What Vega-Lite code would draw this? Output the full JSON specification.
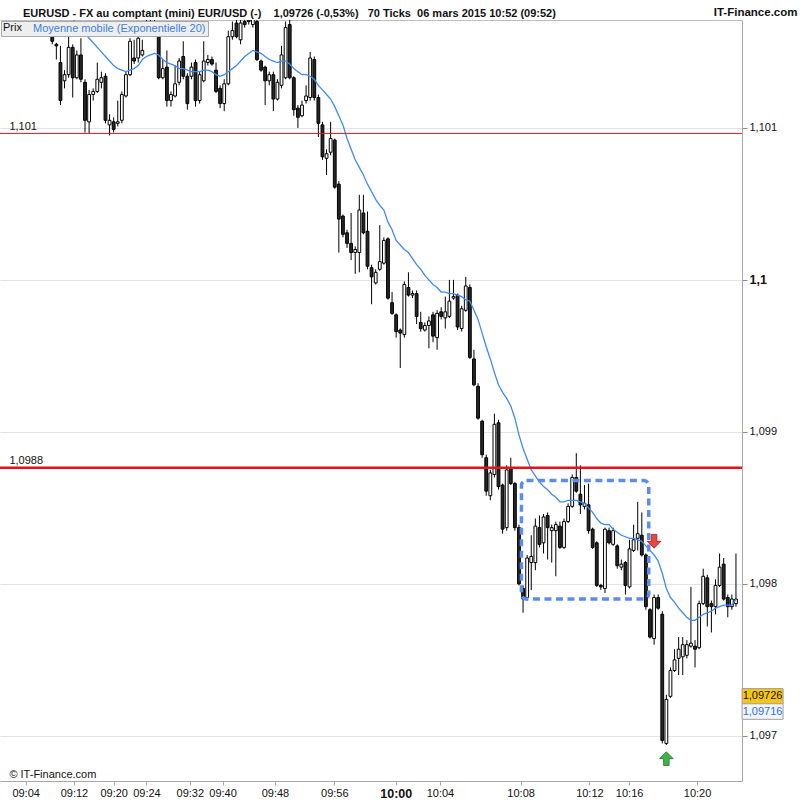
{
  "$schema": "https://vega.github.io/schema/vega-lite/v6.json",
  "description": "EURUSD 70-tick candlesticks with EMA 20, 06 mars 2015",
  "width": 742,
  "height": 761,
  "autosize": {"type": "none"},
  "padding": {"left": 0, "top": 20, "right": 58, "bottom": 19},
  "background": "white",
  "title": {
    "text": "EURUSD - FX au comptant (mini) EUR/USD (-)\u00a0\u00a0\u00a0 1,09726 (-0,53%)\u00a0\u00a0 70 Ticks\u00a0 06 mars 2015 10:52 (09:52)",
    "anchor": "start",
    "frame": "group",
    "dx": 23,
    "offset": -13,
    "font": "Liberation Sans",
    "fontSize": 11,
    "fontWeight": "bold",
    "color": "#111111"
  },
  "datasets": {
    "candles": [
      {"k":10,"o":1.10164,"h":1.10166,"l":1.10155,"c":1.10157},
      {"k":11,"o":1.10155,"h":1.10156,"l":1.10145,"c":1.10154},
      {"k":12,"o":1.10143,"h":1.10154,"l":1.10115,"c":1.10118},
      {"k":13,"o":1.10131,"h":1.10138,"l":1.10126,"c":1.10135},
      {"k":14,"o":1.10135,"h":1.10161,"l":1.10133,"c":1.10153},
      {"k":15,"o":1.10153,"h":1.10155,"l":1.10120,"c":1.10133,"e":1.10172},
      {"k":16,"o":1.10133,"h":1.10151,"l":1.10132,"c":1.10148,"e":1.10168},
      {"k":17,"o":1.10148,"h":1.10159,"l":1.10130,"c":1.10132,"e":1.10165},
      {"k":18,"o":1.10130,"h":1.10132,"l":1.10097,"c":1.10105,"e":1.10162},
      {"k":19,"o":1.10104,"h":1.10125,"l":1.10096,"c":1.10122,"e":1.10159},
      {"k":20,"o":1.10122,"h":1.10126,"l":1.10118,"c":1.10124,"e":1.10156},
      {"k":21,"o":1.10124,"h":1.10143,"l":1.10123,"c":1.10132,"e":1.10153},
      {"k":22,"o":1.10130,"h":1.10137,"l":1.10126,"c":1.10133,"e":1.10150},
      {"k":23,"o":1.10134,"h":1.10136,"l":1.10103,"c":1.10105,"e":1.10147},
      {"k":24,"o":1.10102,"h":1.10109,"l":1.10095,"c":1.10105,"e":1.10144},
      {"k":25,"o":1.10104,"h":1.10107,"l":1.10097,"c":1.10099,"e":1.10141},
      {"k":26,"o":1.10103,"h":1.10118,"l":1.10101,"c":1.10104,"e":1.10139},
      {"k":27,"o":1.10105,"h":1.10124,"l":1.10103,"c":1.10122,"e":1.10138},
      {"k":28,"o":1.10121,"h":1.10137,"l":1.10120,"c":1.10135,"e":1.10137},
      {"k":29,"o":1.10135,"h":1.10159,"l":1.10134,"c":1.10157,"e":1.10138},
      {"k":30,"o":1.10146,"h":1.10158,"l":1.10142,"c":1.10144,"e":1.10139},
      {"k":31,"o":1.10146,"h":1.10161,"l":1.10143,"c":1.10159,"e":1.10141},
      {"k":32,"o":1.10148,"h":1.10158,"l":1.10147,"c":1.10151,"e":1.10145},
      {"k":33,"o":1.10162,"h":1.10174,"l":1.10161,"c":1.10170,"e":1.10147},
      {"k":34,"o":1.10168,"h":1.10178,"l":1.10162,"c":1.10164,"e":1.10148},
      {"k":35,"o":1.10163,"h":1.10176,"l":1.10162,"c":1.10168,"e":1.10149},
      {"k":36,"o":1.10161,"h":1.10164,"l":1.10132,"c":1.10133,"e":1.10148},
      {"k":37,"o":1.10133,"h":1.10145,"l":1.10132,"c":1.10139,"e":1.10145},
      {"k":38,"o":1.10140,"h":1.10151,"l":1.10114,"c":1.10118,"e":1.10143},
      {"k":39,"o":1.10118,"h":1.10124,"l":1.10114,"c":1.10122,"e":1.10142},
      {"k":40,"o":1.10121,"h":1.10141,"l":1.10120,"c":1.10129,"e":1.10141},
      {"k":41,"o":1.10130,"h":1.10146,"l":1.10128,"c":1.10144,"e":1.10139},
      {"k":42,"o":1.10147,"h":1.10157,"l":1.10132,"c":1.10134,"e":1.10139},
      {"k":43,"o":1.10134,"h":1.10136,"l":1.10112,"c":1.10116,"e":1.10138},
      {"k":44,"o":1.10134,"h":1.10143,"l":1.10132,"c":1.10140,"e":1.10137},
      {"k":45,"o":1.10143,"h":1.10145,"l":1.10114,"c":1.10118,"e":1.10137},
      {"k":46,"o":1.10118,"h":1.10137,"l":1.10116,"c":1.10135,"e":1.10137},
      {"k":47,"o":1.10131,"h":1.10157,"l":1.10130,"c":1.10144,"e":1.10138},
      {"k":48,"o":1.10143,"h":1.10148,"l":1.10141,"c":1.10145,"e":1.10138},
      {"k":49,"o":1.10145,"h":1.10147,"l":1.10141,"c":1.10142,"e":1.10137},
      {"k":50,"o":1.10138,"h":1.10143,"l":1.10123,"c":1.10124,"e":1.10135},
      {"k":51,"o":1.10126,"h":1.10128,"l":1.10113,"c":1.10116,"e":1.10134},
      {"k":52,"o":1.10116,"h":1.10132,"l":1.10111,"c":1.10129,"e":1.10135},
      {"k":53,"o":1.10129,"h":1.10164,"l":1.10128,"c":1.10160,"e":1.10137},
      {"k":54,"o":1.10160,"h":1.10170,"l":1.10158,"c":1.10164,"e":1.10139},
      {"k":55,"o":1.10169,"h":1.10172,"l":1.10159,"c":1.10160,"e":1.10141},
      {"k":56,"o":1.10158,"h":1.10174,"l":1.10155,"c":1.10169,"e":1.10144},
      {"k":57,"o":1.10170,"h":1.10174,"l":1.10166,"c":1.10168,"e":1.10147},
      {"k":58,"o":1.10178,"h":1.10181,"l":1.10168,"c":1.10170,"e":1.10149},
      {"k":59,"o":1.10168,"h":1.10184,"l":1.10166,"c":1.10176,"e":1.10151},
      {"k":60,"o":1.10170,"h":1.10178,"l":1.10144,"c":1.10145,"e":1.10150},
      {"k":61,"o":1.10144,"h":1.10145,"l":1.10137,"c":1.10138,"e":1.10149},
      {"k":62,"o":1.10140,"h":1.10141,"l":1.10115,"c":1.10131,"e":1.10147},
      {"k":63,"o":1.10131,"h":1.10137,"l":1.10128,"c":1.10135,"e":1.10145},
      {"k":64,"o":1.10135,"h":1.10137,"l":1.10111,"c":1.10119,"e":1.10144},
      {"k":65,"o":1.10119,"h":1.10132,"l":1.10118,"c":1.10130,"e":1.10143},
      {"k":66,"o":1.10128,"h":1.10154,"l":1.10126,"c":1.10148,"e":1.10144},
      {"k":67,"o":1.10133,"h":1.10170,"l":1.10132,"c":1.10166,"e":1.10144},
      {"k":68,"o":1.10168,"h":1.10171,"l":1.10132,"c":1.10133,"e":1.10142},
      {"k":69,"o":1.10133,"h":1.10134,"l":1.10108,"c":1.10112,"e":1.10139},
      {"k":70,"o":1.10113,"h":1.10115,"l":1.10100,"c":1.10107,"e":1.10137},
      {"k":71,"o":1.10108,"h":1.10118,"l":1.10107,"c":1.10115,"e":1.10135},
      {"k":72,"o":1.10118,"h":1.10128,"l":1.10116,"c":1.10121,"e":1.10135},
      {"k":73,"o":1.10120,"h":1.10150,"l":1.10118,"c":1.10146,"e":1.10134},
      {"k":74,"o":1.10145,"h":1.10147,"l":1.10118,"c":1.10120,"e":1.10132},
      {"k":75,"o":1.10120,"h":1.10122,"l":1.10094,"c":1.10103,"e":1.10128},
      {"k":76,"o":1.10102,"h":1.10104,"l":1.10079,"c":1.10081,"e":1.10125},
      {"k":77,"o":1.10080,"h":1.10086,"l":1.10069,"c":1.10083,"e":1.10122},
      {"k":78,"o":1.10084,"h":1.10104,"l":1.10082,"c":1.10093,"e":1.10119},
      {"k":79,"o":1.10092,"h":1.10093,"l":1.10060,"c":1.10061,"e":1.10114},
      {"k":80,"o":1.10063,"h":1.10065,"l":1.10018,"c":1.10040,"e":1.10108},
      {"k":81,"o":1.10042,"h":1.10043,"l":1.10028,"c":1.10030,"e":1.10102},
      {"k":82,"o":1.10031,"h":1.10033,"l":1.10021,"c":1.10024,"e":1.10093},
      {"k":83,"o":1.10024,"h":1.10044,"l":1.10013,"c":1.10018,"e":1.10086},
      {"k":84,"o":1.10018,"h":1.10022,"l":1.10004,"c":1.10020,"e":1.10079},
      {"k":85,"o":1.10018,"h":1.10056,"l":1.10005,"c":1.10046,"e":1.10074},
      {"k":86,"o":1.10044,"h":1.10056,"l":1.10030,"c":1.10031,"e":1.10069},
      {"k":87,"o":1.10032,"h":1.10045,"l":1.10007,"c":1.10009,"e":1.10063},
      {"k":88,"o":1.10008,"h":1.10010,"l":1.09984,"c":1.10002,"e":1.10058},
      {"k":89,"o":1.09998,"h":1.10007,"l":1.09997,"c":1.10005,"e":1.10053},
      {"k":90,"o":1.10007,"h":1.10036,"l":1.10006,"c":1.10012,"e":1.10049},
      {"k":91,"o":1.10011,"h":1.10028,"l":1.10010,"c":1.10026,"e":1.10046},
      {"k":92,"o":1.10027,"h":1.10028,"l":1.09987,"c":1.09988,"e":1.10038},
      {"k":93,"o":1.09985,"h":1.09992,"l":1.09977,"c":1.09978,"e":1.10033},
      {"k":94,"o":1.09977,"h":1.09978,"l":1.09962,"c":1.09966,"e":1.10026},
      {"k":95,"o":1.09967,"h":1.09968,"l":1.09942,"c":1.09965,"e":1.10023},
      {"k":96,"o":1.09964,"h":1.09999,"l":1.09962,"c":1.09997,"e":1.10020},
      {"k":97,"o":1.09995,"h":1.10005,"l":1.09989,"c":1.09990,"e":1.10018},
      {"k":98,"o":1.09990,"h":1.09993,"l":1.09988,"c":1.09991,"e":1.10014},
      {"k":99,"o":1.09991,"h":1.09993,"l":1.09971,"c":1.09976,"e":1.10010},
      {"k":100,"o":1.09972,"h":1.09979,"l":1.09966,"c":1.09968,"e":1.10007},
      {"k":101,"o":1.09967,"h":1.09972,"l":1.09966,"c":1.09970,"e":1.10003},
      {"k":102,"o":1.09970,"h":1.09976,"l":1.09955,"c":1.09973,"e":1.10000},
      {"k":103,"o":1.09977,"h":1.09979,"l":1.09959,"c":1.09963,"e":1.09997},
      {"k":104,"o":1.09962,"h":1.09980,"l":1.09954,"c":1.09978,"e":1.09995},
      {"k":105,"o":1.09979,"h":1.09982,"l":1.09974,"c":1.09976,"e":1.09992},
      {"k":106,"o":1.09975,"h":1.09989,"l":1.09968,"c":1.09979,"e":1.09992},
      {"k":107,"o":1.09976,"h":1.10000,"l":1.09975,"c":1.09986,"e":1.09991},
      {"k":108,"o":1.09988,"h":1.10000,"l":1.09987,"c":1.09989,"e":1.09991},
      {"k":109,"o":1.09990,"h":1.09991,"l":1.09967,"c":1.09969,"e":1.09990},
      {"k":110,"o":1.09968,"h":1.09983,"l":1.09966,"c":1.09981,"e":1.09989},
      {"k":111,"o":1.09980,"h":1.10002,"l":1.09979,"c":1.09996,"e":1.09987},
      {"k":112,"o":1.09995,"h":1.09997,"l":1.09948,"c":1.09949,"e":1.09986},
      {"k":113,"o":1.09948,"h":1.09954,"l":1.09930,"c":1.09931,"e":1.09980},
      {"k":114,"o":1.09930,"h":1.09932,"l":1.09908,"c":1.09909,"e":1.09974},
      {"k":115,"o":1.09907,"h":1.09908,"l":1.09883,"c":1.09885,"e":1.09965},
      {"k":116,"o":1.09883,"h":1.09885,"l":1.09858,"c":1.09861,"e":1.09956},
      {"k":117,"o":1.09858,"h":1.09875,"l":1.09855,"c":1.09873,"e":1.09948},
      {"k":118,"o":1.09872,"h":1.09912,"l":1.09870,"c":1.09905,"e":1.09939},
      {"k":119,"o":1.09906,"h":1.09908,"l":1.09862,"c":1.09864,"e":1.09931},
      {"k":120,"o":1.09865,"h":1.09866,"l":1.09833,"c":1.09836,"e":1.09926},
      {"k":121,"o":1.09837,"h":1.09878,"l":1.09835,"c":1.09875,"e":1.09922},
      {"k":122,"o":1.09876,"h":1.09883,"l":1.09865,"c":1.09866,"e":1.09917},
      {"k":123,"o":1.09866,"h":1.09867,"l":1.09835,"c":1.09837,"e":1.09909},
      {"k":124,"o":1.09837,"h":1.09839,"l":1.09799,"c":1.09800,"e":1.09898},
      {"k":125,"o":1.09797,"h":1.09799,"l":1.09781,"c":1.09790,"e":1.09889},
      {"k":126,"o":1.09791,"h":1.09819,"l":1.09789,"c":1.09817,"e":1.09882},
      {"k":127,"o":1.09814,"h":1.09832,"l":1.09796,"c":1.09818,"e":1.09875},
      {"k":128,"o":1.09814,"h":1.09843,"l":1.09809,"c":1.09838,"e":1.09871},
      {"k":129,"o":1.09837,"h":1.09845,"l":1.09824,"c":1.09826,"e":1.09867},
      {"k":130,"o":1.09827,"h":1.09846,"l":1.09820,"c":1.09844,"e":1.09864},
      {"k":131,"o":1.09845,"h":1.09847,"l":1.09816,"c":1.09837,"e":1.09862},
      {"k":132,"o":1.09835,"h":1.09839,"l":1.09814,"c":1.09837,"e":1.09859},
      {"k":133,"o":1.09835,"h":1.09841,"l":1.09805,"c":1.09839,"e":1.09857},
      {"k":134,"o":1.09838,"h":1.09841,"l":1.09823,"c":1.09824,"e":1.09854},
      {"k":135,"o":1.09824,"h":1.09843,"l":1.09823,"c":1.09841,"e":1.09854},
      {"k":136,"o":1.09841,"h":1.09853,"l":1.09840,"c":1.09851,"e":1.09855},
      {"k":137,"o":1.09851,"h":1.09872,"l":1.09850,"c":1.09870,"e":1.09855},
      {"k":138,"o":1.09870,"h":1.09886,"l":1.09860,"c":1.09861,"e":1.09855},
      {"k":139,"o":1.09859,"h":1.09878,"l":1.09846,"c":1.09852,"e":1.09854},
      {"k":140,"o":1.09851,"h":1.09865,"l":1.09849,"c":1.09853,"e":1.09853},
      {"k":141,"o":1.09852,"h":1.09866,"l":1.09833,"c":1.09835,"e":1.09850},
      {"k":142,"o":1.09836,"h":1.09837,"l":1.09823,"c":1.09824,"e":1.09847},
      {"k":143,"o":1.09827,"h":1.09828,"l":1.09798,"c":1.09799,"e":1.09843},
      {"k":144,"o":1.09799,"h":1.09800,"l":1.09796,"c":1.09798,"e":1.09840},
      {"k":145,"o":1.09797,"h":1.09837,"l":1.09794,"c":1.09836,"e":1.09839},
      {"k":146,"o":1.09835,"h":1.09837,"l":1.09826,"c":1.09827,"e":1.09839},
      {"k":147,"o":1.09826,"h":1.09837,"l":1.09825,"c":1.09835,"e":1.09836},
      {"k":148,"o":1.09825,"h":1.09826,"l":1.09810,"c":1.09812,"e":1.09834},
      {"k":149,"o":1.09811,"h":1.09816,"l":1.09809,"c":1.09813,"e":1.09832},
      {"k":150,"o":1.09814,"h":1.09815,"l":1.09793,"c":1.09799,"e":1.09831},
      {"k":151,"o":1.09798,"h":1.09829,"l":1.09797,"c":1.09823,"e":1.09830},
      {"k":152,"o":1.09822,"h":1.09839,"l":1.09821,"c":1.09829,"e":1.09830},
      {"k":153,"o":1.09830,"h":1.09854,"l":1.09822,"c":1.09833,"e":1.09829},
      {"k":154,"o":1.09832,"h":1.09847,"l":1.09818,"c":1.09819,"e":1.09828},
      {"k":155,"o":1.09819,"h":1.09820,"l":1.09783,"c":1.09785,"e":1.09825},
      {"k":156,"o":1.09783,"h":1.09784,"l":1.09764,"c":1.09765,"e":1.09822},
      {"k":157,"o":1.09764,"h":1.09793,"l":1.09760,"c":1.09791,"e":1.09819},
      {"k":158,"o":1.09791,"h":1.09793,"l":1.09783,"c":1.09784,"e":1.09815},
      {"k":159,"o":1.09780,"h":1.09782,"l":1.09695,"c":1.09697,"e":1.09807},
      {"k":160,"o":1.09695,"h":1.09727,"l":1.09694,"c":1.09724,"e":1.09797},
      {"k":161,"o":1.09726,"h":1.09745,"l":1.09725,"c":1.09743,"e":1.09791},
      {"k":162,"o":1.09743,"h":1.09757,"l":1.09742,"c":1.09750,"e":1.09788},
      {"k":163,"o":1.09751,"h":1.09765,"l":1.09740,"c":1.09757,"e":1.09784},
      {"k":164,"o":1.09752,"h":1.09765,"l":1.09740,"c":1.09760,"e":1.09781},
      {"k":165,"o":1.09753,"h":1.09763,"l":1.09751,"c":1.09760,"e":1.09778},
      {"k":166,"o":1.09759,"h":1.09798,"l":1.09758,"c":1.09761,"e":1.09776},
      {"k":167,"o":1.09759,"h":1.09763,"l":1.09745,"c":1.09757,"e":1.09776},
      {"k":168,"o":1.09758,"h":1.09789,"l":1.09757,"c":1.09787,"e":1.09778},
      {"k":169,"o":1.09787,"h":1.09810,"l":1.09786,"c":1.09805,"e":1.09780},
      {"k":170,"o":1.09804,"h":1.09806,"l":1.09772,"c":1.09785,"e":1.09781},
      {"k":171,"o":1.09787,"h":1.09789,"l":1.09768,"c":1.09785,"e":1.09782},
      {"k":172,"o":1.09785,"h":1.09803,"l":1.09780,"c":1.09799,"e":1.09784},
      {"k":173,"o":1.09799,"h":1.09820,"l":1.09798,"c":1.09811,"e":1.09785},
      {"k":174,"o":1.09813,"h":1.09817,"l":1.09789,"c":1.09790,"e":1.09786},
      {"k":175,"o":1.09791,"h":1.09793,"l":1.09778,"c":1.09785,"e":1.09786},
      {"k":176,"o":1.09785,"h":1.09793,"l":1.09783,"c":1.09790,"e":1.09786},
      {"k":177,"o":1.09787,"h":1.09820,"l":1.09785,"c":1.09790,"e":1.09790}
    ],
    "levels": [
      {"v": 1.101, "lab": "1,101"},
      {"v": 1.0988, "lab": "1,0988"}
    ],
    "zone": [
      {"k1": 124.6, "k2": 155.7, "top": 1.09868, "bottom": 1.0979}
    ],
    "signals": [
      {"k": 157, "p": 1.09828, "dir": "down"},
      {"k": 160, "p": 1.09685, "dir": "up"}
    ],
    "tags": [
      {"p": 1.09726, "lab": "1,09726", "kind": "last"},
      {"p": 1.09716, "lab": "1,09716", "kind": "ema"}
    ]
  },
  "resolve": {"axis": {"x": "independent", "y": "independent"}},
  "layer": [
    {
      "data": {"name": "candles"},
      "mark": {"type": "rule", "color": "#000000", "strokeWidth": 1, "clip": true},
      "encoding": {
        "x": {
          "field": "k", "type": "quantitative",
          "scale": {"domain": [-1.542, 177.253], "nice": false, "zero": false},
          "axis": {
            "orient": "bottom", "title": null, "grid": false,
            "values": [3.5, 15.3, 25, 33, 43.6, 51.6, 64.4, 78.9, 93.9, 104.7, 124.4, 141.2, 150.9, 167.5],
            "labelExpr": "datum.value < 10 ? '09:04' : datum.value < 20 ? '09:12' : datum.value < 29 ? '09:20' : datum.value < 38 ? '09:24' : datum.value < 48 ? '09:32' : datum.value < 58 ? '09:40' : datum.value < 70 ? '09:48' : datum.value < 85 ? '09:56' : datum.value < 99 ? '10:00' : datum.value < 115 ? '10:04' : datum.value < 133 ? '10:08' : datum.value < 146 ? '10:12' : datum.value < 160 ? '10:16' : '10:20'",
            "labelFont": "Liberation Sans",
            "labelFontSize": {"condition": {"test": "datum.value > 93 && datum.value < 95", "value": 12.5}, "value": 11},
            "labelFontWeight": {"condition": {"test": "datum.value > 93 && datum.value < 95", "value": "bold"}, "value": "normal"},
            "labelColor": "#111111",
            "labelPadding": 2,
            "labelFlush": false,
            "labelOverlap": false,
            "domainColor": "#a8a8a8",
            "tickColor": "#a8a8a8",
            "tickSize": 4
          }
        },
        "y": {
          "field": "l", "type": "quantitative",
          "scale": {"domain": [1.096703, 1.10171], "nice": false, "zero": false},
          "axis": {
            "orient": "right", "title": null,
            "values": [1.097, 1.098, 1.099, 1.1, 1.101],
            "labelExpr": "replace(format(datum.value, '.3~f'), '.', ',')",
            "labelFont": "Liberation Sans",
            "labelFontSize": {"condition": {"test": "abs(datum.value - 1.1) < 0.0001", "value": 12.5}, "value": 11},
            "labelFontWeight": {"condition": {"test": "abs(datum.value - 1.1) < 0.0001", "value": "bold"}, "value": "normal"},
            "labelColor": "#111111",
            "labelPadding": 2,
            "grid": true,
            "gridColor": "#e3e3e3",
            "domainColor": "#a8a8a8",
            "tickColor": "#8c8c8c",
            "tickSize": 5
          }
        },
        "y2": {"field": "h"}
      }
    },
    {
      "data": {"name": "candles"},
      "mark": {"type": "bar", "orient": "vertical", "size": 2.8, "stroke": "#000000", "strokeWidth": 1, "clip": true},
      "encoding": {
        "x": {"field": "k", "type": "quantitative", "scale": {"domain": [-1.542, 177.253], "nice": false, "zero": false}, "axis": null},
        "y": {"field": "o", "type": "quantitative", "scale": {"domain": [1.096703, 1.10171], "nice": false, "zero": false}, "axis": null},
        "y2": {"field": "c"},
        "fill": {"condition": {"test": "datum.c > datum.o", "value": "#ffffff"}, "value": "#262626"}
      }
    },
    {
      "data": {"name": "candles"},
      "mark": {"type": "line", "strokeWidth": 1.3, "clip": true},
      "encoding": {
        "x": {
          "field": "k", "type": "quantitative",
          "scale": {"domain": [-1.542, 177.253], "nice": false, "zero": false},
          "axis": {
            "orient": "top", "labels": false, "ticks": false, "grid": false,
            "domain": true, "domainColor": "#bdbdbd",
            "title": "IT-Finance.com",
            "titleX": 797, "titleY": -5,
            "titleAlign": "right", "titleAnchor": "end", "titleBaseline": "alphabetic",
            "titleFont": "Liberation Sans", "titleFontSize": 11.5, "titleFontWeight": "bold", "titleColor": "#111111"
          }
        },
        "y": {"field": "e", "type": "quantitative", "scale": {"domain": [1.096703, 1.10171], "nice": false, "zero": false}, "axis": null},
        "color": {
          "datum": "Moyenne mobile (Exponentielle 20)", "type": "nominal",
          "scale": {"range": ["#3d8af7"]},
          "legend": {
            "orient": "top-left", "offset": 1, "zindex": 1,
            "title": "Prix", "titleOrient": "left", "titlePadding": 0,
            "titleFont": "Liberation Sans", "titleFontSize": 11, "titleFontWeight": "normal", "titleColor": "#111111",
            "labelFont": "Liberation Sans", "labelFontSize": 11, "labelColor": "#3a7ee8", "labelOffset": 0, "labelLimit": 400,
            "symbolSize": 0, "symbolStrokeWidth": 0, "symbolOpacity": 0,
            "fillColor": "#eeeeee", "strokeColor": "#a9a9a9", "padding": 2
          }
        }
      }
    },
    {
      "data": {"name": "levels"},
      "mark": {"type": "rule", "color": "#e0141b", "yOffset": 5.5},
      "encoding": {
        "y": {"field": "v", "type": "quantitative", "scale": {"domain": [1.096703, 1.10171], "nice": false, "zero": false}, "axis": null},
        "strokeWidth": {"condition": {"test": "datum.v < 1.1", "value": 2.5}, "value": 1}
      }
    },
    {
      "data": {"name": "levels"},
      "mark": {"type": "text", "align": "left", "baseline": "middle", "dx": 3, "dy": -1, "font": "Liberation Sans", "fontSize": 11, "color": "#111111"},
      "encoding": {
        "x": {"datum": -1.2, "type": "quantitative", "scale": {"domain": [-1.542, 177.253], "nice": false, "zero": false}, "axis": null},
        "y": {"field": "v", "type": "quantitative", "scale": {"domain": [1.096703, 1.10171], "nice": false, "zero": false}, "axis": null},
        "text": {"field": "lab"}
      }
    },
    {
      "data": {"name": "zone"},
      "mark": {"type": "rect", "fill": "transparent", "stroke": "#5b8df0", "strokeWidth": 3.5, "strokeDash": [7, 4.5], "cornerRadius": 5},
      "encoding": {
        "x": {"field": "k1", "type": "quantitative", "scale": {"domain": [-1.542, 177.253], "nice": false, "zero": false}, "axis": null},
        "x2": {"field": "k2"},
        "y": {"field": "top", "type": "quantitative", "scale": {"domain": [1.096703, 1.10171], "nice": false, "zero": false}, "axis": null},
        "y2": {"field": "bottom"}
      }
    },
    {
      "data": {"name": "signals"},
      "mark": {"type": "point", "filled": true, "opacity": 1, "size": 190, "strokeWidth": 0.8},
      "encoding": {
        "x": {"field": "k", "type": "quantitative", "scale": {"domain": [-1.542, 177.253], "nice": false, "zero": false}, "axis": null},
        "y": {"field": "p", "type": "quantitative", "scale": {"domain": [1.096703, 1.10171], "nice": false, "zero": false}, "axis": null},
        "shape": {"condition": {"test": "datum.dir == 'down'", "value": "M-0.4,-1L0.4,-1L0.4,0L1,0L0,1L-1,0L-0.4,0Z"}, "value": "M-0.4,1L0.4,1L0.4,0L1,0L0,-1L-1,0L-0.4,0Z"},
        "fill": {"condition": {"test": "datum.dir == 'down'", "value": "#e8463f"}, "value": "#3fb34a"},
        "stroke": {"condition": {"test": "datum.dir == 'down'", "value": "#9c1c1c"}, "value": "#1d7a2a"}
      }
    },
    {
      "data": {"name": "tags"},
      "mark": {"type": "point", "filled": true, "opacity": 1, "size": 1681, "shape": "M-1,-0.38L1,-0.38L1,0.38L-1,0.38Z", "stroke": "#a0a0a0", "strokeWidth": 1},
      "encoding": {
        "x": {"datum": 183.5, "type": "quantitative", "scale": {"domain": [-1.542, 177.253], "nice": false, "zero": false}, "axis": null},
        "y": {"field": "p", "type": "quantitative", "scale": {"domain": [1.096703, 1.10171], "nice": false, "zero": false}, "axis": null},
        "fill": {"condition": {"test": "datum.kind == 'last'", "value": "#f8c511"}, "value": "#f3f5fa"}
      }
    },
    {
      "data": {"name": "tags"},
      "mark": {"type": "text", "align": "center", "baseline": "middle", "font": "Liberation Sans", "fontSize": 11},
      "encoding": {
        "x": {"datum": 183.5, "type": "quantitative", "scale": {"domain": [-1.542, 177.253], "nice": false, "zero": false}, "axis": null},
        "y": {"field": "p", "type": "quantitative", "scale": {"domain": [1.096703, 1.10171], "nice": false, "zero": false}, "axis": null},
        "text": {"field": "lab"},
        "fill": {"condition": {"test": "datum.kind == 'last'", "value": "#111111"}, "value": "#2e6fd9"}
      }
    },
    {
      "data": {"values": [{"note": "\u00a9 IT-Finance.com"}]},
      "mark": {"type": "text", "align": "left", "baseline": "middle", "dx": 3, "font": "Liberation Sans", "fontSize": 11, "color": "#111111"},
      "encoding": {
        "x": {"datum": -1.2, "type": "quantitative", "scale": {"domain": [-1.542, 177.253], "nice": false, "zero": false}, "axis": null},
        "y": {"datum": 1.096742, "type": "quantitative", "scale": {"domain": [1.096703, 1.10171], "nice": false, "zero": false}, "axis": null},
        "text": {"field": "note"}
      }
    }
  ],
  "config": {
    "view": {"stroke": null},
    "font": "Liberation Sans"
  }
}
